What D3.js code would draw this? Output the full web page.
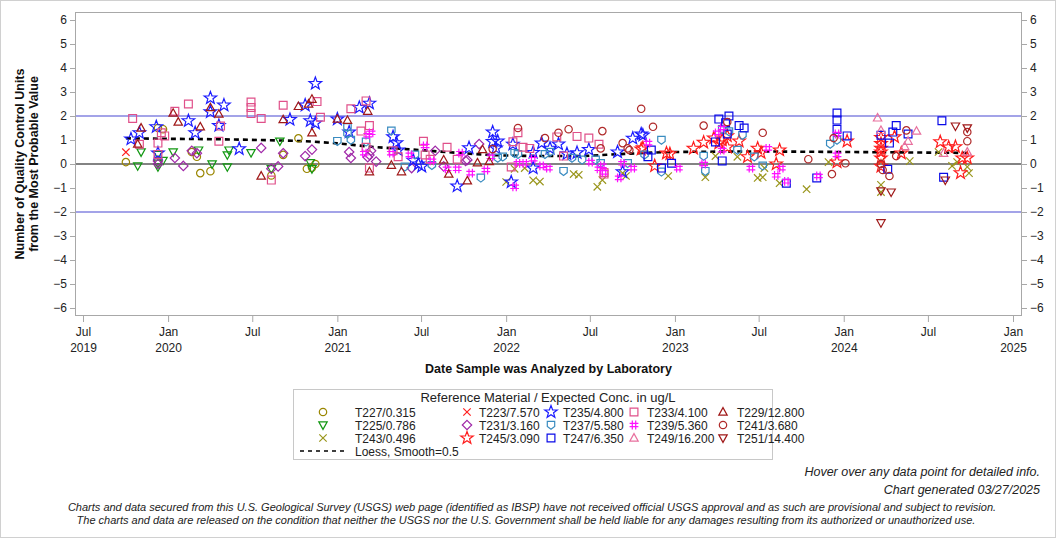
<!DOCTYPE html>
<html><head><meta charset="utf-8">
<script src="https://cdn.jsdelivr.net/npm/d3@7"></script>
<style>
html,body{margin:0;padding:0;background:#fff;}
svg{display:block;font-family:"Liberation Sans",Arial,sans-serif;}
</style></head>
<body>
<svg id="c" width="1056" height="538"></svg>
<script>
// ---------- DATA (decimal year, QC units) ----------
const seriesNames = ["T227/0.315","T225/0.786","T243/0.496","T223/7.570","T231/3.160","T245/3.090",
  "T235/4.800","T237/5.580","T247/6.350","T233/4.100","T239/5.360","T249/16.200","T229/12.800","T241/3.680","T251/14.400"];

const T227 = [[2019.75,0.08],[2019.94,1.5],[2019.97,1.45],[2020.14,0.5],[2020.17,0.3],[2020.19,-0.38],[2020.25,-0.3],
  [2020.61,-0.48],[2020.68,0.38],[2020.77,1.07],[2020.82,-0.2],[2020.87,0.0],[2020.85,-0.15]];
const T225 = [[2019.84,0.5],[2019.82,-0.08],[2019.94,0.4],[2019.97,0.15],[2019.94,0.03],[2019.94,-0.12],[2020.03,0.5],
  [2020.18,0.58],[2020.26,0.0],[2020.36,0.58],[2020.35,0.38],[2020.35,-0.12],[2020.49,0.47],[2020.61,-0.2],[2020.66,0.95],
  [2020.84,0.05],[2020.85,-0.2]];
const T243 = [[2022.05,-0.2],[2022.11,-0.17],[2022.00,-0.75],[2022.16,-0.68],[2022.20,-0.73],[2022.40,-0.42],[2022.43,-0.45],
  [2022.54,-0.95],[2022.57,-0.67],[2022.69,-0.38],[2022.71,-0.5],[2022.96,-0.5],[2023.18,-0.55],[2023.24,0.33],[2023.37,0.3],
  [2023.53,-0.17],[2023.49,-0.58],[2023.52,-0.55],[2023.62,-0.8],[2023.78,-1.05],[2023.91,0.08],[2024.22,-0.87],[2024.22,-1.17],
  [2024.22,0.1],[2024.39,0.12],[2024.56,0.5],[2024.64,-0.08],[2024.67,0.08],[2024.74,-0.38],[2024.73,-0.12]];
const T223 = [[2019.75,0.49]];
const T231 = [[2019.94,0.13],[2019.94,0.0],[2020.04,0.25],[2020.09,-0.08],[2020.14,0.55],[2020.17,0.45],[2020.55,0.67],
  [2020.61,-0.2],[2020.65,-0.1],[2020.68,0.45],[2020.81,0.33],[2020.85,0.6],[2021.07,0.5],[2021.08,0.25],[2021.20,0.55],
  [2021.18,0.28],[2021.23,0.1],[2021.19,0.38],[2021.44,-0.17],[2021.58,0.55],[2021.63,-0.1],[2021.76,0.13],[2021.84,0.83],[2021.77,0.17]];
const T245 = [[2022.80,0.62],[2022.81,0.67],[2022.95,0.45],[2022.97,0.42],[2022.88,-0.08],[2023.11,0.65],[2023.17,0.9],
  [2023.23,1.08],[2023.26,0.87],[2023.28,1.0],[2023.31,1.17],[2023.31,0.7],[2023.38,0.95],[2023.43,0.3],[2023.49,0.65],
  [2023.51,0.47],[2023.62,0.58],[2023.60,0.0],[2023.96,0.08],[2024.02,0.95],[2024.22,1.1],[2024.22,0.85],[2024.22,0.65],
  [2024.22,0.5],[2024.22,0.25],[2024.22,-0.1],[2024.30,1.13],
  [2024.34,0.45],[2024.57,0.92],[2024.62,0.7],[2024.66,0.72],[2024.70,0.25],[2024.73,0.25],[2024.69,-0.37]];
const T235 = [[2019.78,1.04],[2019.83,1.3],[2019.93,1.55],[2019.94,0.45],[2020.12,1.8],[2020.16,1.3],[2020.25,2.75],
  [2020.25,2.17],[2020.33,2.45],[2020.30,1.6],[2020.42,0.63],[2020.72,1.85],[2020.81,2.45],[2020.87,3.35],[2020.84,1.8],
  [2020.87,1.7],[2021.00,1.87],[2021.07,1.33],[2021.13,2.35],[2021.19,2.53],[2021.33,1.13],[2021.35,0.88],[2021.36,0.58],
  [2021.45,0.15],[2021.48,0.0],[2021.50,-0.1],[2021.71,-0.92],[2021.78,0.67],[2021.92,1.33],[2021.92,0.93],[2021.95,0.95],
  [2021.94,0.66],[2022.03,-0.75],[2022.04,0.82],[2022.16,-0.17],[2022.16,0.48],[2022.21,0.87],[2022.26,0.65],[2022.31,0.83],
  [2022.36,0.42],[2022.42,0.47],[2022.49,0.6],[2022.66,0.5],[2022.69,-0.33],[2022.75,1.07],[2022.80,1.25],[2022.81,1.2]];
const T237 = [[2021.00,0.95],[2021.06,1.53],[2021.06,1.25],[2021.08,1.0],[2021.17,0.92],[2021.32,1.38],[2021.40,-0.12],
  [2021.46,0.38],[2021.56,-0.05],[2021.85,-0.58],[2021.95,0.25],[2021.98,0.3],[2022.05,0.45],[2022.07,0.4],[2022.23,0.4],
  [2022.26,0.5],[2022.34,-0.3],[2022.39,0.25],[2022.45,0.17],[2022.53,0.17],[2022.56,0.03],[2022.72,0.03],[2022.82,0.38],
  [2022.92,1.0],[2022.92,-0.33],[2023.17,0.33],[2023.18,-0.3],[2023.28,1.45],[2023.32,1.35],[2023.40,1.2],[2023.37,0.58],
  [2023.47,0.3],[2023.52,-0.08],[2023.92,0.83],[2023.96,1.0]];
const T247 = [[2022.86,0.58],[2022.84,0.3],[2022.92,-0.17],[2022.98,0.03],[2023.24,0.92],[2023.26,1.87],[2023.32,2.0],
  [2023.30,1.72],[2023.38,1.6],[2023.41,1.5],[2023.31,1.25],[2023.28,0.13],[2023.66,-0.8],[2023.84,-0.58],[2023.96,2.12],
  [2023.96,1.83],[2023.96,1.45],[2024.02,1.17],[2024.22,1.2],[2024.27,0.87],[2024.31,1.6],[2024.29,1.33],[2024.38,1.25],
  [2024.26,-0.22],[2024.58,1.8],[2024.59,-0.55]];
const T233 = [[2019.79,1.9],[2019.83,0.82],[2019.96,1.3],[2019.98,1.17],[2019.94,0.87],[2019.94,0.4],[2020.04,2.2],
  [2020.12,2.5],[2020.31,1.58],[2020.30,0.95],[2020.49,2.58],[2020.49,2.35],[2020.49,2.1],[2020.55,1.9],[2020.61,-0.67],
  [2020.68,2.45],[2020.88,2.6],[2020.90,1.95],[2021.08,2.3],[2021.17,2.63],[2021.14,1.37],[2021.19,1.6],[2021.17,0.7],
  [2021.19,-0.17],[2021.33,0.55],[2021.36,0.3],[2021.51,0.95],[2021.52,0.38],[2021.55,0.2],[2021.65,0.7],[2021.71,0.2],
  [2022.04,0.93],[2022.07,1.3],[2022.10,0.7],[2022.14,0.65],[2022.03,-0.12],[2022.30,1.13],[2022.34,0.33],[2022.42,1.15],
  [2022.49,1.08],[2022.55,0.82],[2022.58,-0.35],[2022.58,-0.42]];
const T239 = [[2021.20,1.3],[2021.18,1.2],[2021.16,0.45],[2021.32,0.45],[2021.43,0.38],[2021.52,0.75],[2021.56,0.13],
  [2021.65,-0.2],[2021.71,-0.2],[2021.73,0.45],[2021.79,-0.38],[2021.88,-0.25],[2021.91,0.3],[2022.05,-0.95],[2022.07,0.03],
  [2022.11,0.03],[2022.16,0.2],[2022.21,-0.08],[2022.25,-0.17],[2022.50,0.08],[2022.57,-0.08],[2022.58,-0.35],[2022.55,-0.2],
  [2022.67,-0.58],[2022.69,0.03],[2022.75,-0.17],[2022.84,0.87],[2023.02,-0.17],[2023.17,0.0],[2023.25,1.3],[2023.28,1.5],
  [2023.28,0.58],[2023.45,-0.17],[2023.55,0.65],[2023.63,-0.17],[2023.60,-0.47],[2023.66,-0.72],[2023.85,-0.5],[2023.96,1.25],[2023.96,0.38]];
const T249 = [[2024.20,1.92],[2024.22,1.4],[2024.36,0.73],[2024.38,0.95],[2024.43,1.37],[2024.59,0.45],[2024.73,0.5]];
const T229 = [[2019.82,0.83],[2019.84,1.5],[2020.03,2.12],[2020.06,1.75],[2020.19,1.55],[2020.25,2.35],[2020.30,2.08],
  [2020.55,-0.5],[2020.68,1.85],[2020.77,2.4],[2020.83,2.5],[2020.85,2.7],[2020.85,1.3],[2021.00,1.87],[2021.06,1.82],
  [2021.18,2.2],[2021.19,-0.32],[2021.32,-0.05],[2021.38,-0.32],[2021.63,0.17],[2021.66,-0.42],[2021.77,-0.7],[2021.86,0.6],
  [2021.83,0.05],[2021.90,0.1]];
const T241 = [[2021.92,0.62],[2022.07,1.5],[2022.23,1.08],[2022.31,1.3],[2022.37,1.45],[2022.57,1.37],[2022.56,0.65],
  [2022.69,0.87],[2022.72,0.65],[2022.73,0.58],[2022.80,2.3],[2022.87,1.55],[2023.17,1.6],[2023.31,1.75],[2023.52,1.3],
  [2023.79,0.2],[2023.94,1.08],[2024.01,0.03],[2023.93,-0.42],[2024.22,0.0],[2024.27,-0.5],[2024.23,-0.25],[2024.31,0.33],
  [2024.37,1.4],[2024.73,1.33],[2024.73,0.95]];
const T251 = [[2024.22,-1.12],[2024.28,-1.17],[2024.22,-2.45],[2024.66,1.58],[2024.73,1.5],[2024.60,-0.67]];

const loess = [[2019.75,1.07],[2020.0,1.05],[2020.3,1.03],[2020.6,0.99],[2020.8,0.95],[2021.0,0.86],[2021.2,0.72],
  [2021.45,0.6],[2021.7,0.47],[2021.9,0.38],[2022.1,0.34],[2022.4,0.33],[2022.7,0.42],[2023.0,0.5],[2023.5,0.52],
  [2024.0,0.5],[2024.4,0.48],[2024.74,0.46]];

const yTicks = [-6,-5,-4,-3,-2,-1,0,1,2,3,4,5,6];
const refLines = [-2,2];

// ---------- helpers ----------
function decToDate(d){
  const y = Math.floor(d), f = d - y;
  const a = new Date(y,0,1), b = new Date(y+1,0,1);
  return new Date(a.getTime() + f*(b-a));
}
function starPath(R,r){
  let p="";
  for(let i=0;i<10;i++){
    const ang = -Math.PI/2 + i*Math.PI/5, rad = i%2===0?R:r;
    p += (i?"L":"M")+(rad*Math.cos(ang)).toFixed(2)+","+(rad*Math.sin(ang)).toFixed(2);
  }
  return p+"Z";
}
const shapes = {
  circle:"M3.7,0A3.7,3.7 0 1,1 -3.7,0A3.7,3.7 0 1,1 3.7,0Z",
  square:"M-3.9,-3.9H3.9V3.9H-3.9Z",
  triUp:"M0,-4.4L4.2,3.1L-4.2,3.1Z",
  triDown:"M0,4.4L4.2,-3.1L-4.2,-3.1Z",
  diamond:"M0,-4.7L4.7,0L0,4.7L-4.7,0Z",
  xmark:"M-3.7,-3.7L3.7,3.7M-3.7,3.7L3.7,-3.7",
  star:starPath(6.6,2.7),
  hash:"M-1.7,-4.4V4.4M1.7,-4.4V4.4M-4.4,-1.7H4.4M-4.4,1.7H4.4",
  shield:"M-3.7,-3.7H3.7V1.4L0,4.2L-3.7,1.4Z"
};
const styles = {
  "T227/0.315":{d:T227,shape:"circle",color:"#9a8600"},
  "T225/0.786":{d:T225,shape:"triDown",color:"#139813"},
  "T243/0.496":{d:T243,shape:"xmark",color:"#9a961c"},
  "T223/7.570":{d:T223,shape:"xmark",color:"#ff2020"},
  "T231/3.160":{d:T231,shape:"diamond",color:"#a028a8"},
  "T245/3.090":{d:T245,shape:"star",color:"#ff1c1c"},
  "T235/4.800":{d:T235,shape:"star",color:"#1c1cff"},
  "T237/5.580":{d:T237,shape:"shield",color:"#3a8cc0"},
  "T247/6.350":{d:T247,shape:"square",color:"#0a0ae8"},
  "T233/4.100":{d:T233,shape:"square",color:"#e0508a"},
  "T239/5.360":{d:T239,shape:"hash",color:"#ff10ff"},
  "T249/16.200":{d:T249,shape:"triUp",color:"#e8709e"},
  "T229/12.800":{d:T229,shape:"triUp",color:"#a01818"},
  "T241/3.680":{d:T241,shape:"circle",color:"#b02a2a"},
  "T251/14.400":{d:T251,shape:"triDown",color:"#a01818"}
};

// ---------- layout ----------
const svg = d3.select("#c");
const L=75,R=1022,T=12,B=316;
const x = d3.scaleTime().domain([new Date(2019,6,1), new Date(2025,0,1)]).range([83,1013]);
const y = d3.scaleLinear().domain([-6,6]).range([308,20]);

svg.append("rect").attr("x",0.5).attr("y",0.5).attr("width",1055).attr("height",537)
  .attr("fill","#fff").attr("stroke","#d0d0d0");

svg.selectAll(".ref").data(refLines).enter().append("line")
  .attr("x1",L).attr("x2",R).attr("y1",d=>y(d)).attr("y2",d=>y(d))
  .attr("stroke","#8585e0").attr("stroke-width",1.6);
svg.append("line").attr("x1",L).attr("x2",R).attr("y1",y(0)).attr("y2",y(0))
  .attr("stroke","#5a5a5a").attr("stroke-width",1.6);

svg.append("rect").attr("x",L+0.5).attr("y",T+0.5).attr("width",R-L-1).attr("height",B-T-1)
  .attr("fill","none").attr("stroke","#a8a8a8");

const yAxL = d3.axisLeft(y).tickValues(yTicks).tickSize(5).tickPadding(3);
const gl = svg.append("g").attr("transform",`translate(${L},0)`).call(yAxL);
const yAxR = d3.axisRight(y).tickValues(yTicks).tickSize(5).tickPadding(3);
const gr = svg.append("g").attr("transform",`translate(${R},0)`).call(yAxR);
[gl,gr].forEach(g=>{
  g.select(".domain").remove();
  g.selectAll(".tick line").attr("stroke","#a8a8a8");
  g.selectAll(".tick text").attr("font-size",12).attr("fill","#222")
   .attr("font-family","Liberation Sans, Arial, sans-serif");
});

const xTickDates = d3.timeMonth.every(6).range(new Date(2019,6,1), new Date(2025,0,2));
const xAx = d3.axisBottom(x).tickValues(xTickDates).tickSize(6).tickFormat("");
const gx = svg.append("g").attr("transform",`translate(0,${B})`).call(xAx);
gx.select(".domain").remove();
gx.selectAll(".tick line").attr("stroke","#a8a8a8");
const fm = d3.timeFormat("%b"), fy = d3.timeFormat("%Y");
gx.selectAll(".tick").each(function(d,i){
  const t = d3.select(this).append("text").attr("fill","#222").attr("font-size",12)
    .attr("text-anchor","middle").attr("font-family","Liberation Sans, Arial, sans-serif");
  t.append("tspan").attr("x",0).attr("y",20).text(fm(d));
  if (i===0 || d.getMonth()===0) t.append("tspan").attr("x",0).attr("y",36).text(fy(d));
});

svg.append("text").attr("x",(L+R)/2).attr("y",373).attr("text-anchor","middle")
  .attr("font-size",12.5).attr("font-weight","bold").attr("fill","#111").text("Date Sample was Analyzed by Laboratory");
const yt = svg.append("text").attr("transform","translate(0,164) rotate(-90)")
  .attr("text-anchor","middle").attr("font-size",12.5).attr("font-weight","bold").attr("fill","#111");
yt.append("tspan").attr("x",0).attr("y",24).text("Number of Quality Control Units");
yt.append("tspan").attr("x",0).attr("y",38).text("from the Most Probable Value");

const line = d3.line().x(d=>x(decToDate(d[0]))).y(d=>y(d[1])).curve(d3.curveMonotoneX);
svg.append("path").datum(loess).attr("d",line).attr("fill","none")
  .attr("stroke","#000").attr("stroke-width",2.6).attr("stroke-dasharray","5,4");

const plot = svg.append("g");
seriesNames.forEach(name=>{
  const s = styles[name];
  plot.append("g").selectAll("path").data(s.d).enter().append("path")
    .attr("d",shapes[s.shape])
    .attr("transform",d=>`translate(${x(decToDate(d[0]))},${y(d[1])})`)
    .attr("fill","none").attr("stroke",s.color).attr("stroke-width",1.2);
});

const lg = svg.append("g");
lg.append("rect").attr("x",293.5).attr("y",389.5).attr("width",479).attr("height",70)
  .attr("fill","#fff").attr("stroke","#c8c8c8");
lg.append("text").attr("x",548).attr("y",402).attr("text-anchor","middle").attr("font-size",13)
  .attr("fill","#222").text("Reference Material / Expected Conc. in ug/L");
const cols = [[323,355],[467,479],[551,563],[634,647],[723,737]];
const rows = [412,425,438];
const layout = [
  ["T227/0.315",0,0],["T225/0.786",0,1],["T243/0.496",0,2],
  ["T223/7.570",1,0],["T231/3.160",1,1],["T245/3.090",1,2],
  ["T235/4.800",2,0],["T237/5.580",2,1],["T247/6.350",2,2],
  ["T233/4.100",3,0],["T239/5.360",3,1],["T249/16.200",3,2],
  ["T229/12.800",4,0],["T241/3.680",4,1],["T251/14.400",4,2]
];
layout.forEach(([name,c,r])=>{
  const s = styles[name];
  lg.append("path").attr("d",shapes[s.shape]).attr("transform",`translate(${cols[c][0]},${rows[r]})`)
    .attr("fill","none").attr("stroke",s.color).attr("stroke-width",1.2);
  lg.append("text").attr("x",cols[c][1]).attr("y",rows[r]+4.5).attr("font-size",12).attr("fill","#222").text(name);
});
lg.append("line").attr("x1",300).attr("x2",346).attr("y1",451).attr("y2",451)
  .attr("stroke","#000").attr("stroke-width",1.3).attr("stroke-dasharray","4,4");
lg.append("text").attr("x",355).attr("y",455.5).attr("font-size",12).attr("fill","#222").text("Loess, Smooth=0.5");

const ft = svg.append("g").attr("font-style","italic").attr("fill","#222");
ft.append("text").attr("x",1040).attr("y",476).attr("text-anchor","end").attr("font-size",12.5)
  .text("Hover over any data point for detailed info.");
ft.append("text").attr("x",1040).attr("y",494).attr("text-anchor","end").attr("font-size",12.5)
  .text("Chart generated 03/27/2025");
ft.append("text").attr("x",532).attr("y",511).attr("text-anchor","middle").attr("font-size",11)
  .text("Charts and data secured from this U.S. Geological Survey (USGS) web page (identified as IBSP) have not received official USGS approval and as such are provisional and subject to revision.");
ft.append("text").attr("x",526).attr("y",524).attr("text-anchor","middle").attr("font-size",11)
  .text("The charts and data are released on the condition that neither the USGS nor the U.S. Government shall be held liable for any damages resulting from its authorized or unauthorized use.");
</script>
</body></html>
